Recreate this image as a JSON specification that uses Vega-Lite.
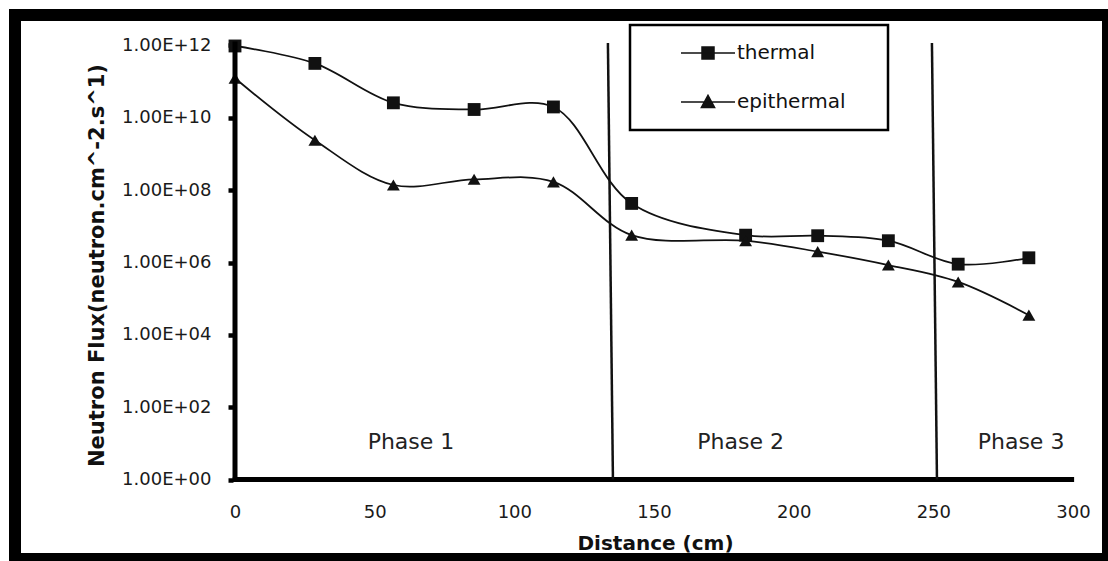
{
  "$schema": "https://vega.github.io/schema/vega-lite/v6.json",
  "width": 1093,
  "height": 544,
  "autosize": {"type": "none"},
  "padding": {"left": 15, "top": 15, "right": 0, "bottom": 2},
  "background": "white",
  "config": {
    "view": {"stroke": "black", "strokeWidth": 12, "fill": "white"},
    "font": "DejaVu Sans"
  },
  "datasets": {
    "flux": [
      {"series": "thermal", "x": 0, "y": 9.7e11},
      {"series": "thermal", "x": 28.6, "y": 3.2e11},
      {"series": "thermal", "x": 56.7, "y": 2.6e10},
      {"series": "thermal", "x": 85.6, "y": 1.7e10},
      {"series": "thermal", "x": 114, "y": 2.0e10},
      {"series": "thermal", "x": 142, "y": 4.3e7},
      {"series": "thermal", "x": 182.8, "y": 5.7e6},
      {"series": "thermal", "x": 208.6, "y": 5.5e6},
      {"series": "thermal", "x": 233.9, "y": 4.0e6},
      {"series": "thermal", "x": 258.9, "y": 9.0e5},
      {"series": "thermal", "x": 284.2, "y": 1.35e6},
      {"series": "epithermal", "x": 0, "y": 1.24e11},
      {"series": "epithermal", "x": 28.6, "y": 2.4e9},
      {"series": "epithermal", "x": 56.7, "y": 1.39e8},
      {"series": "epithermal", "x": 85.6, "y": 2.0e8},
      {"series": "epithermal", "x": 114, "y": 1.7e8},
      {"series": "epithermal", "x": 142, "y": 5.7e6},
      {"series": "epithermal", "x": 182.8, "y": 4.0e6},
      {"series": "epithermal", "x": 208.6, "y": 2.0e6},
      {"series": "epithermal", "x": 233.9, "y": 8.5e5},
      {"series": "epithermal", "x": 258.9, "y": 2.9e5},
      {"series": "epithermal", "x": 284.2, "y": 3.5e4}
    ],
    "axislines": [
      {"x": 0, "x2": 0, "y": 0.85, "y2": 1.3e12},
      {"x": -0.8, "x2": 300.4, "y": 1, "y2": 1}
    ],
    "phaselines": [
      {"x": 133.5, "x2": 135.3, "y": 1.17e12, "y2": 1},
      {"x": 249.5, "x2": 251.3, "y": 1.17e12, "y2": 1}
    ],
    "phases": [
      {"label": "Phase 1", "x": 63, "y": 11},
      {"label": "Phase 2", "x": 181, "y": 11},
      {"label": "Phase 3", "x": 281.4, "y": 11}
    ]
  },
  "layer": [
    {
      "data": {"name": "flux"},
      "mark": {"type": "line", "interpolate": "catmull-rom", "strokeWidth": 1.75},
      "encoding": {
        "x": {
          "field": "x", "type": "quantitative",
          "scale": {"domain": [-78.76, 312.53], "nice": false, "zero": false},
          "axis": {
            "values": [0, 50, 100, 150, 200, 250, 300],
            "domain": false, "ticks": false, "tickSize": 0, "grid": false,
            "offset": -79.5,
            "labelFont": "DejaVu Sans", "labelFontSize": 18, "labelColor": "#1a1a1a",
            "labelPadding": 24, "labelFlush": false,
            "title": "Distance (cm)",
            "titleFont": "DejaVu Sans", "titleFontSize": 20, "titleFontWeight": "bold", "titleColor": "#111",
            "titleX": 640, "titleY": 70, "titleBaseline": "alphabetic", "titleAlign": "center"
          }
        },
        "y": {
          "field": "y", "type": "quantitative",
          "scale": {"type": "log", "domain": [0.00634, 6.97e12], "nice": false, "zero": false},
          "axis": {
            "values": [1, 100, 10000, 1000000, 100000000, 10000000000, 1000000000000],
            "labelExpr": "'1.00E+' + (round(log(datum.value)/LN10) < 10 ? '0' : '') + format(round(log(datum.value)/LN10), 'd')",
            "domain": false, "grid": false,
            "ticks": true, "tickSize": 5, "tickWidth": 4.5, "tickColor": "black",
            "offset": -218,
            "labelFont": "DejaVu Sans", "labelFontSize": 18, "labelColor": "#1a1a1a",
            "labelPadding": 17, "labelFlush": false, "labelOverlap": false,
            "title": "Neutron Flux(neutron.cm^-2.s^1)",
            "titleFont": "DejaVu Sans", "titleFontSize": 21, "titleFontWeight": "bold", "titleColor": "#111",
            "titleX": -136, "titleY": 250, "titleAngle": -90, "titleBaseline": "middle", "titleAlign": "center"
          }
        },
        "stroke": {
          "field": "series", "type": "nominal",
          "scale": {"domain": ["thermal", "epithermal"], "range": ["#111111", "#111111"]},
          "legend": {
            "title": null,
            "orient": "none", "legendX": 615, "legendY": 10,
            "padding": 18,
            "strokeColor": "black", "fillColor": "white",
            "labelFont": "DejaVu Sans", "labelFontSize": 20, "labelColor": "#111",
            "symbolSize": 144, "symbolOffset": 50, "labelOffset": 19, "rowPadding": 29,
            "encode": {
              "legend": {
                "update": {"strokeWidth": {"value": 2.5}}
              },
              "symbols": {
                "update": {
                  "shape": {"signal": "datum.value === 'thermal' ? 'M-4.5,0H4.5M-1,-1H1V1H-1ZM26.5,0' : 'M-4.5,0H4.5M0,-1.1L1.1,0.9H-1.1ZM26.5,0'"},
                  "fill": {"value": "#111111"},
                  "stroke": {"value": "#111111"},
                  "strokeWidth": {"value": 1.5},
                  "strokeOpacity": {"value": 1},
                  "size": {"value": 144},
                  "opacity": {"value": 1},
                  "fillOpacity": {"value": 1}
                }
              }
            }
          }
        },
        "detail": {"field": "series"}
      }
    },
    {
      "data": {"name": "flux"},
      "transform": [{"filter": "datum.series === 'thermal'"}],
      "mark": {"type": "point", "shape": "square", "filled": true, "opacity": 1, "size": 165, "color": "#111111"},
      "encoding": {
        "x": {"field": "x", "type": "quantitative"},
        "y": {"field": "y", "type": "quantitative"}
      }
    },
    {
      "data": {"name": "flux"},
      "transform": [{"filter": "datum.series === 'epithermal'"}],
      "mark": {"type": "point", "shape": "triangle-up", "filled": true, "opacity": 1, "size": 165, "color": "#111111"},
      "encoding": {
        "x": {"field": "x", "type": "quantitative"},
        "y": {"field": "y", "type": "quantitative"}
      }
    },
    {
      "data": {"name": "axislines"},
      "mark": {"type": "rule", "strokeWidth": 5, "color": "black"},
      "encoding": {
        "x": {"field": "x", "type": "quantitative"},
        "x2": {"field": "x2"},
        "y": {"field": "y", "type": "quantitative"},
        "y2": {"field": "y2"}
      }
    },
    {
      "data": {"name": "phaselines"},
      "mark": {"type": "rule", "strokeWidth": 2.5, "color": "#111111"},
      "encoding": {
        "x": {"field": "x", "type": "quantitative"},
        "x2": {"field": "x2"},
        "y": {"field": "y", "type": "quantitative"},
        "y2": {"field": "y2"}
      }
    },
    {
      "data": {"name": "phases"},
      "mark": {"type": "text", "font": "DejaVu Sans", "fontSize": 22, "color": "#222222", "align": "center", "baseline": "middle"},
      "encoding": {
        "x": {"field": "x", "type": "quantitative"},
        "y": {"field": "y", "type": "quantitative"},
        "text": {"field": "label"}
      }
    }
  ]
}
